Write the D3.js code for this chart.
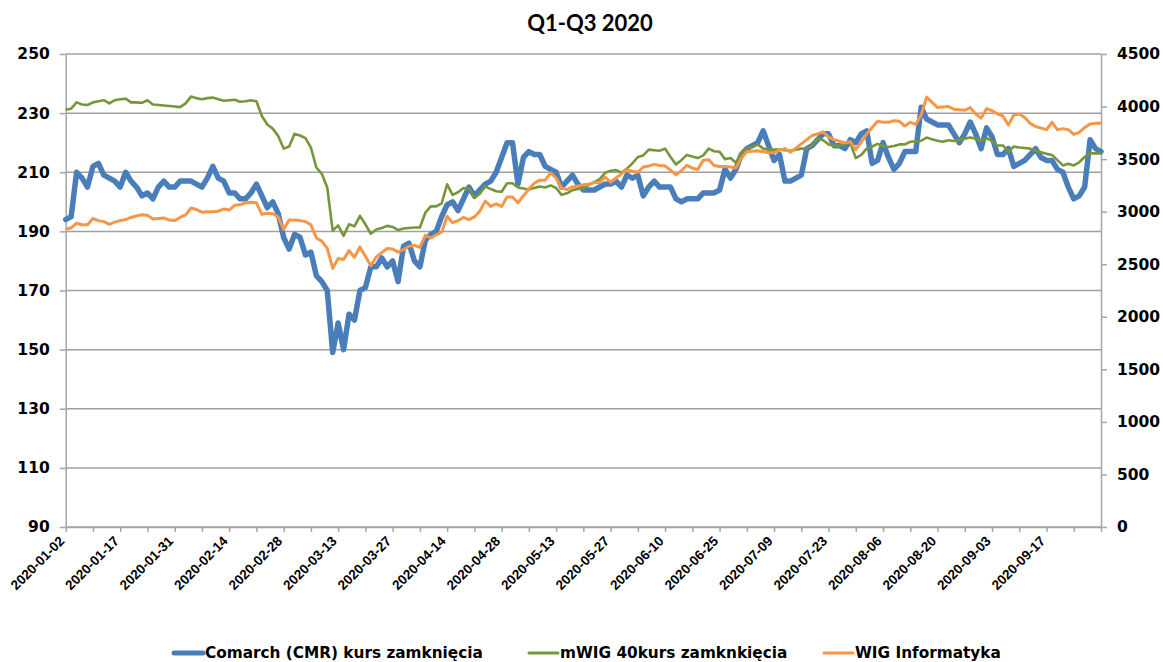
<!DOCTYPE html>
<html>
<head>
<meta charset="utf-8">
<script src="https://cdnjs.cloudflare.com/ajax/libs/d3/7.8.5/d3.min.js"></script>
<style>
  body { margin: 0; background: #fff; }
  .axis path, .axis line { stroke: #a6a6a6; stroke-width: 1.5; }
  .yaxis text { font-family: "DejaVu Sans", Verdana, sans-serif; font-weight: bold; font-size: 15.5px; fill: #000; }
  .xaxis text { font-family: "Liberation Sans", Arial, sans-serif; font-weight: bold; font-size: 13.5px; fill: #000; }
</style>
</head>
<body>
<div class="chart"></div>
<script>
// x labels shown every 10 trading days (ticks every 5)
var tickLabels = ["2020-01-02","2020-01-17","2020-01-31","2020-02-14","2020-02-28","2020-03-13",
  "2020-03-27","2020-04-14","2020-04-28","2020-05-13","2020-05-27","2020-06-10","2020-06-25",
  "2020-07-09","2020-07-23","2020-08-06","2020-08-20","2020-09-03","2020-09-17"]

var leftTicks = [90,110,130,150,170,190,210,230,250]
var rightTicks = [0,500,1000,1500,2000,2500,3000,3500,4000,4500]

// Comarch (CMR) closing price, left axis
var comarch = [194,195,210,208,205,212,213,209,208,207,205,210,207,205,202,203,201,205,207,205,
  205,207,207,207,206,205,208,212,208,207,203,203,201,201,203,206,202,198,200,196,
  188,184,189,188,182,183,175,173,170,149,159,150,162,160,170,171,178,178,181,178,
  180,173,185,186,180,178,187,189,190,195,199,200,197,201,205,202,204,206,207,210,
  215,220,220,206,215,217,216,216,212,211,210,205,207,209,206,204,204,204,205,206,
  206,207,205,209,208,209,202,205,207,205,205,205,201,200,201,201,201,203,203,203,
  204,211,208,211,216,218,219,220,224,219,214,216,207,207,208,209,218,219,221,223,
  223,219,219,218,221,220,223,224,213,214,220,215,211,213,217,217,217,232,228,227,
  226,226,226,223,220,223,227,223,218,225,222,216,216,218,212,213,214,216,218,215,
  214,214,211,210,205,201,202,205,221,218,217]

// mWIG40, right axis
var mwig40 = [3970,3980,4040,4020,4015,4040,4050,4060,4030,4060,4070,4075,4040,4040,4035,4060,4020,4015,4010,4005,
  4000,3995,4030,4095,4080,4070,4080,4085,4070,4055,4060,4065,4045,4050,4060,4050,3910,3830,3790,3720,
  3600,3620,3740,3725,3700,3610,3420,3360,3230,2820,2870,2770,2880,2860,2960,2880,2790,2830,2845,2865,
  2855,2825,2840,2845,2850,2850,2990,3050,3050,3080,3260,3160,3185,3225,3220,3130,3170,3240,3215,3195,
  3190,3270,3270,3230,3220,3210,3225,3240,3230,3250,3225,3160,3175,3205,3215,3220,3255,3280,3310,3370,
  3390,3395,3370,3410,3460,3520,3535,3590,3585,3580,3600,3520,3450,3490,3540,3525,3510,3535,3600,3575,
  3570,3500,3510,3465,3560,3600,3615,3640,3600,3590,3590,3590,3585,3580,3590,3600,3600,3630,3700,3680,
  3640,3630,3625,3650,3650,3510,3540,3600,3620,3645,3625,3615,3625,3640,3640,3665,3670,3675,3705,3690,
  3675,3665,3680,3672,3685,3695,3705,3695,3670,3700,3670,3630,3630,3570,3620,3610,3605,3600,3580,3565,
  3550,3540,3490,3440,3455,3440,3470,3520,3555,3555,3555]

// WIG Informatyka, right axis
var wigInfo = [2835,2845,2890,2875,2875,2935,2915,2905,2880,2900,2915,2925,2945,2960,2970,2965,2930,2935,2940,2920,
  2915,2945,2970,3035,3020,2995,3000,3000,3005,3025,3015,3060,3065,3085,3090,3085,2975,2985,2980,2950,
  2830,2920,2920,2915,2905,2875,2750,2720,2650,2460,2555,2545,2630,2565,2665,2575,2485,2570,2610,2650,
  2645,2615,2640,2670,2680,2660,2775,2750,2780,2805,2955,2895,2915,2945,2925,2950,3005,3100,3050,3075,
  3050,3140,3140,3085,3150,3215,3270,3300,3300,3370,3320,3225,3210,3235,3245,3255,3260,3280,3275,3330,
  3280,3320,3360,3400,3385,3375,3425,3435,3450,3440,3435,3395,3350,3390,3440,3415,3400,3490,3495,3440,
  3430,3430,3425,3415,3510,3570,3575,3580,3570,3560,3560,3585,3600,3565,3605,3645,3685,3725,3740,3760,
  3710,3685,3670,3655,3665,3590,3660,3740,3800,3860,3850,3850,3865,3860,3815,3850,3830,3920,4090,4040,
  3990,3995,4000,3975,3970,3965,3990,3930,3890,3980,3960,3930,3910,3825,3920,3930,3895,3840,3810,3795,
  3780,3850,3780,3790,3780,3735,3755,3800,3835,3840,3840]

var seriesNames = ["Comarch (CMR) kurs zamknięcia", "mWIG 40kurs zamknkięcia", "WIG Informatyka"]
var seriesColors = ["#4a7ebb", "#77963a", "#f79646"]

var width = 1163,
    height = 662,
    plot = {left: 65.7, right: 1101, top: 54, bottom: 527}

var svg = d3.select(".chart")
  .append("svg")
  .attr("width", width)
  .attr("height", height)

var x = d3.scaleLinear()
  .domain([0, comarch.length - 1])
  .range([plot.left, plot.right])

var yLeft = d3.scaleLinear().domain([90, 250]).range([plot.bottom, plot.top])
var yRight = d3.scaleLinear().domain([0, 4500]).range([plot.bottom, plot.top])

// title
svg.append("text")
  .attr("x", 590)
  .attr("y", 31)
  .attr("text-anchor", "middle")
  .style("font-family", "Lato, 'Open Sans', sans-serif")
  .style("font-weight", "bold")
  .style("font-size", "22px")
  .text("Q1-Q3 2020")

// gridlines from the left axis
svg.append("g")
  .selectAll("line")
  .data(leftTicks)
  .enter()
  .append("line")
  .attr("x1", plot.left)
  .attr("x2", plot.right)
  .attr("y1", function(d) { return yLeft(d); })
  .attr("y2", function(d) { return yLeft(d); })
  .attr("stroke", "#a0a0a0")
  .attr("stroke-width", 1.5)

svg.append("g")
  .attr("class", "axis yaxis")
  .attr("transform", "translate(" + plot.left + ",0)")
  .call(d3.axisLeft(yLeft).tickValues(leftTicks).tickSize(6).tickSizeOuter(0).tickPadding(10))

svg.append("g")
  .attr("class", "axis yaxis")
  .attr("transform", "translate(" + plot.right + ",0)")
  .call(d3.axisRight(yRight).tickValues(rightTicks).tickSize(6).tickSizeOuter(0).tickPadding(10)
    .tickFormat(d3.format("d")))

var xaxis = svg.append("g")
  .attr("class", "axis xaxis")
  .attr("transform", "translate(0," + plot.bottom + ")")
  .call(d3.axisBottom(x)
    .tickValues(d3.range(0, comarch.length, 5))
    .tickSize(5)
    .tickSizeOuter(0)
    .tickFormat(function(i) { return i % 10 === 0 ? tickLabels[i / 10] : ""; }))

xaxis.selectAll("text")
  .attr("text-anchor", "end")
  .attr("x", 0)
  .attr("y", 0)
  .attr("dy", 0)
  .attr("transform", "translate(-1,15) rotate(-45)")

// lines: primary first, then secondary series on top
var lineLeft = d3.line()
  .x(function(d, i) { return x(i); })
  .y(function(d) { return yLeft(d); })

var lineRight = d3.line()
  .x(function(d, i) { return x(i); })
  .y(function(d) { return yRight(d); })

svg.append("path")
  .datum(comarch)
  .attr("d", lineLeft)
  .attr("fill", "none")
  .attr("stroke", seriesColors[0])
  .attr("stroke-width", 5.5)
  .attr("stroke-linejoin", "round")
  .attr("stroke-linecap", "round")

svg.append("path")
  .datum(mwig40)
  .attr("d", lineRight)
  .attr("fill", "none")
  .attr("stroke", seriesColors[1])
  .attr("stroke-width", 2.6)
  .attr("stroke-linejoin", "round")

svg.append("path")
  .datum(wigInfo)
  .attr("d", lineRight)
  .attr("fill", "none")
  .attr("stroke", seriesColors[2])
  .attr("stroke-width", 3)
  .attr("stroke-linejoin", "round")

// legend along the bottom
var legendX = [174, 529, 824],
    legendWidths = [5, 3, 3]

var legend = svg.append("g")
  .selectAll("g")
  .data(seriesNames)
  .enter()
  .append("g")
  .attr("transform", function(d, i) { return "translate(" + legendX[i] + ",653)"; })

legend.append("line")
  .attr("x1", 0)
  .attr("x2", 29)
  .attr("stroke", function(d, i) { return seriesColors[i]; })
  .attr("stroke-width", function(d, i) { return legendWidths[i]; })
  .attr("stroke-linecap", "round")

legend.append("text")
  .attr("x", 31)
  .attr("y", 5)
  .style("font-family", "'DejaVu Sans', Verdana, sans-serif")
  .style("font-weight", "bold")
  .style("font-size", "15.3px")
  .text(function(d) { return d; })
</script>
</body>
</html>
